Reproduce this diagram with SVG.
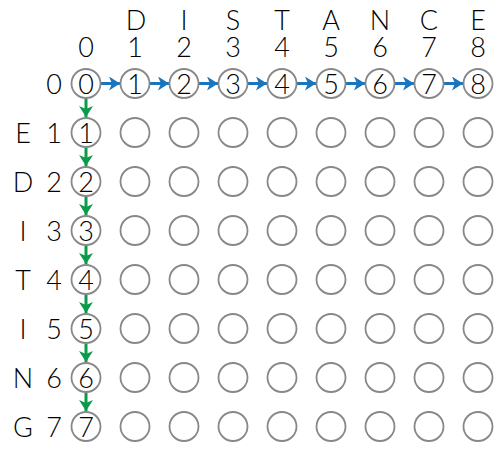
<svg xmlns="http://www.w3.org/2000/svg" width="496" height="449" viewBox="0 0 496 449">
<style>
.n{fill:none;stroke:#888;stroke-width:1.8}
text{font-family:Lato,"Open Sans","Liberation Sans",sans-serif;font-weight:300;fill:#000;text-anchor:middle}
.d{font-size:27px}
.h{font-size:27px}
.b{stroke:#1a75bc;stroke-width:3;fill:none}
.g{stroke:#0b9a4a;stroke-width:3;fill:none}
</style>
<defs>
<marker id="ab" markerUnits="userSpaceOnUse" markerWidth="12" markerHeight="14" refX="11" refY="7" orient="auto"><path d="M0,0 L11,7 L0,14 L3,7 z" fill="#1a75bc"/></marker>
<marker id="ag" markerUnits="userSpaceOnUse" markerWidth="12" markerHeight="14" refX="11" refY="7" orient="auto"><path d="M0,0 L11,7 L0,14 L3,7 z" fill="#0b9a4a"/></marker>
</defs>
<g id="col-labels">
<text class="h" x="136" y="29.5">D</text><text class="h" x="184" y="29.5">I</text><text class="h" x="233" y="29.5">S</text><text class="h" x="282" y="29.5">T</text><text class="h" x="331" y="29.5">A</text><text class="h" x="380" y="29.5">N</text><text class="h" x="429" y="29.5">C</text><text class="h" x="478" y="29.5">E</text>
<text class="h" x="86" y="57">0</text><text class="h" x="135" y="57">1</text><text class="h" x="184" y="57">2</text><text class="h" x="233" y="57">3</text><text class="h" x="282" y="57">4</text><text class="h" x="331" y="57">5</text><text class="h" x="380" y="57">6</text><text class="h" x="429" y="57">7</text><text class="h" x="478" y="57">8</text>
</g>
<g id="row-labels">
<text class="d" x="54" y="93.5">0</text>
<text class="d" x="23" y="142.5">E</text><text class="d" x="54" y="142.5">1</text>
<text class="d" x="23" y="191.5">D</text><text class="d" x="54" y="191.5">2</text>
<text class="d" x="23" y="240.5">I</text><text class="d" x="54" y="240.5">3</text>
<text class="d" x="23" y="289.5">T</text><text class="d" x="54" y="289.5">4</text>
<text class="d" x="23" y="338.5">I</text><text class="d" x="54" y="338.5">5</text>
<text class="d" x="23" y="387.5">N</text><text class="d" x="54" y="387.5">6</text>
<text class="d" x="23" y="436.5">G</text><text class="d" x="54" y="436.5">7</text>
</g>
<g id="connectors">
<line class="b" x1="101" y1="83.5" x2="120" y2="83.5" marker-end="url(#ab)"/>
<line class="b" x1="150" y1="83.5" x2="169" y2="83.5" marker-end="url(#ab)"/>
<line class="b" x1="199" y1="83.5" x2="218" y2="83.5" marker-end="url(#ab)"/>
<line class="b" x1="248" y1="83.5" x2="267" y2="83.5" marker-end="url(#ab)"/>
<line class="b" x1="297" y1="83.5" x2="316" y2="83.5" marker-end="url(#ab)"/>
<line class="b" x1="346" y1="83.5" x2="365" y2="83.5" marker-end="url(#ab)"/>
<line class="b" x1="395" y1="83.5" x2="414" y2="83.5" marker-end="url(#ab)"/>
<line class="b" x1="444" y1="83.5" x2="463" y2="83.5" marker-end="url(#ab)"/>
<line class="g" x1="86" y1="98.5" x2="86" y2="117" marker-end="url(#ag)"/>
<line class="g" x1="86" y1="147.5" x2="86" y2="166" marker-end="url(#ag)"/>
<line class="g" x1="86" y1="196.5" x2="86" y2="215" marker-end="url(#ag)"/>
<line class="g" x1="86" y1="245.5" x2="86" y2="264" marker-end="url(#ag)"/>
<line class="g" x1="86" y1="294.5" x2="86" y2="313" marker-end="url(#ag)"/>
<line class="g" x1="86" y1="343.5" x2="86" y2="362" marker-end="url(#ag)"/>
<line class="g" x1="86" y1="392.5" x2="86" y2="411" marker-end="url(#ag)"/>
</g>
<g id="n0-0"><circle class="n" cx="86" cy="83.5" r="14.5"/><text class="d" x="86" y="93.5">0</text></g>
<g id="n0-1"><circle class="n" cx="135" cy="83.5" r="14.5"/><text class="d" x="135" y="93.5">1</text></g>
<g id="n0-2"><circle class="n" cx="184" cy="83.5" r="14.5"/><text class="d" x="184" y="93.5">2</text></g>
<g id="n0-3"><circle class="n" cx="233" cy="83.5" r="14.5"/><text class="d" x="233" y="93.5">3</text></g>
<g id="n0-4"><circle class="n" cx="282" cy="83.5" r="14.5"/><text class="d" x="282" y="93.5">4</text></g>
<g id="n0-5"><circle class="n" cx="331" cy="83.5" r="14.5"/><text class="d" x="331" y="93.5">5</text></g>
<g id="n0-6"><circle class="n" cx="380" cy="83.5" r="14.5"/><text class="d" x="380" y="93.5">6</text></g>
<g id="n0-7"><circle class="n" cx="429" cy="83.5" r="14.5"/><text class="d" x="429" y="93.5">7</text></g>
<g id="n0-8"><circle class="n" cx="478" cy="83.5" r="14.5"/><text class="d" x="478" y="93.5">8</text></g>
<g id="n1-0"><circle class="n" cx="86" cy="132.5" r="14.5"/><text class="d" x="86" y="142.5">1</text></g>
<g id="n2-0"><circle class="n" cx="86" cy="181.5" r="14.5"/><text class="d" x="86" y="191.5">2</text></g>
<g id="n3-0"><circle class="n" cx="86" cy="230.5" r="14.5"/><text class="d" x="86" y="240.5">3</text></g>
<g id="n4-0"><circle class="n" cx="86" cy="279.5" r="14.5"/><text class="d" x="86" y="289.5">4</text></g>
<g id="n5-0"><circle class="n" cx="86" cy="328.5" r="14.5"/><text class="d" x="86" y="338.5">5</text></g>
<g id="n6-0"><circle class="n" cx="86" cy="377.5" r="14.5"/><text class="d" x="86" y="387.5">6</text></g>
<g id="n7-0"><circle class="n" cx="86" cy="426.5" r="14.5"/><text class="d" x="86" y="436.5">7</text></g>
<g id="n1-1"><circle class="n" cx="135" cy="132.5" r="14.5"/></g><g id="n1-2"><circle class="n" cx="184" cy="132.5" r="14.5"/></g><g id="n1-3"><circle class="n" cx="233" cy="132.5" r="14.5"/></g><g id="n1-4"><circle class="n" cx="282" cy="132.5" r="14.5"/></g><g id="n1-5"><circle class="n" cx="331" cy="132.5" r="14.5"/></g><g id="n1-6"><circle class="n" cx="380" cy="132.5" r="14.5"/></g><g id="n1-7"><circle class="n" cx="429" cy="132.5" r="14.5"/></g><g id="n1-8"><circle class="n" cx="478" cy="132.5" r="14.5"/></g>
<g id="n2-1"><circle class="n" cx="135" cy="181.5" r="14.5"/></g><g id="n2-2"><circle class="n" cx="184" cy="181.5" r="14.5"/></g><g id="n2-3"><circle class="n" cx="233" cy="181.5" r="14.5"/></g><g id="n2-4"><circle class="n" cx="282" cy="181.5" r="14.5"/></g><g id="n2-5"><circle class="n" cx="331" cy="181.5" r="14.5"/></g><g id="n2-6"><circle class="n" cx="380" cy="181.5" r="14.5"/></g><g id="n2-7"><circle class="n" cx="429" cy="181.5" r="14.5"/></g><g id="n2-8"><circle class="n" cx="478" cy="181.5" r="14.5"/></g>
<g id="n3-1"><circle class="n" cx="135" cy="230.5" r="14.5"/></g><g id="n3-2"><circle class="n" cx="184" cy="230.5" r="14.5"/></g><g id="n3-3"><circle class="n" cx="233" cy="230.5" r="14.5"/></g><g id="n3-4"><circle class="n" cx="282" cy="230.5" r="14.5"/></g><g id="n3-5"><circle class="n" cx="331" cy="230.5" r="14.5"/></g><g id="n3-6"><circle class="n" cx="380" cy="230.5" r="14.5"/></g><g id="n3-7"><circle class="n" cx="429" cy="230.5" r="14.5"/></g><g id="n3-8"><circle class="n" cx="478" cy="230.5" r="14.5"/></g>
<g id="n4-1"><circle class="n" cx="135" cy="279.5" r="14.5"/></g><g id="n4-2"><circle class="n" cx="184" cy="279.5" r="14.5"/></g><g id="n4-3"><circle class="n" cx="233" cy="279.5" r="14.5"/></g><g id="n4-4"><circle class="n" cx="282" cy="279.5" r="14.5"/></g><g id="n4-5"><circle class="n" cx="331" cy="279.5" r="14.5"/></g><g id="n4-6"><circle class="n" cx="380" cy="279.5" r="14.5"/></g><g id="n4-7"><circle class="n" cx="429" cy="279.5" r="14.5"/></g><g id="n4-8"><circle class="n" cx="478" cy="279.5" r="14.5"/></g>
<g id="n5-1"><circle class="n" cx="135" cy="328.5" r="14.5"/></g><g id="n5-2"><circle class="n" cx="184" cy="328.5" r="14.5"/></g><g id="n5-3"><circle class="n" cx="233" cy="328.5" r="14.5"/></g><g id="n5-4"><circle class="n" cx="282" cy="328.5" r="14.5"/></g><g id="n5-5"><circle class="n" cx="331" cy="328.5" r="14.5"/></g><g id="n5-6"><circle class="n" cx="380" cy="328.5" r="14.5"/></g><g id="n5-7"><circle class="n" cx="429" cy="328.5" r="14.5"/></g><g id="n5-8"><circle class="n" cx="478" cy="328.5" r="14.5"/></g>
<g id="n6-1"><circle class="n" cx="135" cy="377.5" r="14.5"/></g><g id="n6-2"><circle class="n" cx="184" cy="377.5" r="14.5"/></g><g id="n6-3"><circle class="n" cx="233" cy="377.5" r="14.5"/></g><g id="n6-4"><circle class="n" cx="282" cy="377.5" r="14.5"/></g><g id="n6-5"><circle class="n" cx="331" cy="377.5" r="14.5"/></g><g id="n6-6"><circle class="n" cx="380" cy="377.5" r="14.5"/></g><g id="n6-7"><circle class="n" cx="429" cy="377.5" r="14.5"/></g><g id="n6-8"><circle class="n" cx="478" cy="377.5" r="14.5"/></g>
<g id="n7-1"><circle class="n" cx="135" cy="426.5" r="14.5"/></g><g id="n7-2"><circle class="n" cx="184" cy="426.5" r="14.5"/></g><g id="n7-3"><circle class="n" cx="233" cy="426.5" r="14.5"/></g><g id="n7-4"><circle class="n" cx="282" cy="426.5" r="14.5"/></g><g id="n7-5"><circle class="n" cx="331" cy="426.5" r="14.5"/></g><g id="n7-6"><circle class="n" cx="380" cy="426.5" r="14.5"/></g><g id="n7-7"><circle class="n" cx="429" cy="426.5" r="14.5"/></g><g id="n7-8"><circle class="n" cx="478" cy="426.5" r="14.5"/></g>
</svg>
